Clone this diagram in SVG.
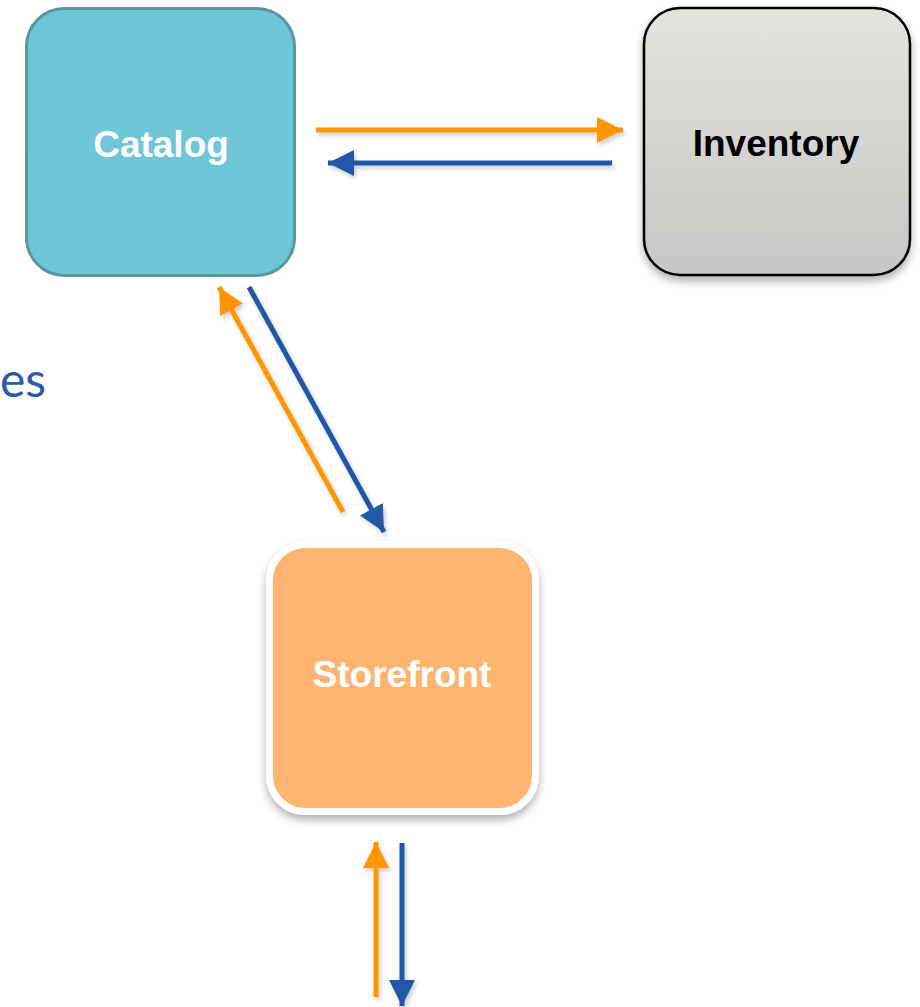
<svg xmlns="http://www.w3.org/2000/svg" width="920" height="1007" viewBox="0 0 920 1007">
  <defs>
    <linearGradient id="invGrad" x1="0" y1="0" x2="0" y2="1">
      <stop offset="0" stop-color="#e3e3df"/>
      <stop offset="1" stop-color="#c6c6c4"/>
    </linearGradient>
    <filter id="shadow" x="-20%" y="-20%" width="140%" height="150%">
      <feDropShadow dx="0" dy="5" stdDeviation="4" flood-color="#000" flood-opacity="0.3"/>
    </filter>
    <filter id="lineShadow" x="-20%" y="-20%" width="140%" height="140%">
      <feDropShadow dx="2" dy="3" stdDeviation="2" flood-color="#000" flood-opacity="0.2"/>
    </filter>
    <marker id="headOrange" viewBox="0 0 10 10" refX="10" refY="5" markerUnits="userSpaceOnUse" markerWidth="26" markerHeight="26" orient="auto">
      <path d="M0,0 L10,5 L0,10 Z" fill="#ff9500"/>
    </marker>
    <marker id="headBlue" viewBox="0 0 10 10" refX="10" refY="5" markerUnits="userSpaceOnUse" markerWidth="26" markerHeight="26" orient="auto">
      <path d="M0,0 L10,5 L0,10 Z" fill="#2457a6"/>
    </marker>
  </defs>
  <style>
    .label { font-family: "Liberation Sans", Arial, sans-serif; font-weight: bold; font-size: 37px; text-anchor: middle; }
    .req { stroke: #ff9500; stroke-width: 5; fill: none; marker-end: url(#headOrange); }
    .resp { stroke: #2457a6; stroke-width: 5; fill: none; marker-end: url(#headBlue); }
  </style>

  <rect width="920" height="1007" fill="#ffffff"/>

  <!-- trailing fragment of a heading -->
  <text x="0" y="397" font-family="Lato, 'Open Sans', sans-serif" font-size="48" fill="#2b5cab">es</text>

  <g id="connectors" filter="url(#lineShadow)">
    <line class="req" x1="316" y1="130" x2="623" y2="130"/>
    <line class="resp" x1="612" y1="163" x2="328" y2="163"/>
    <line class="req" x1="343" y1="512" x2="219" y2="287"/>
    <line class="resp" x1="249" y1="287" x2="384" y2="532"/>
    <line class="req" x1="376" y1="997" x2="376" y2="842"/>
    <line class="resp" x1="402" y1="843" x2="402" y2="1006"/>
  </g>

  <g id="catalog">
    <rect x="26.5" y="8.5" width="268" height="267" rx="38" ry="38" fill="#6fc6d6" stroke="#5a96a2" stroke-width="3"/>
    <text class="label" x="161" y="157" fill="#ffffff">Catalog</text>
  </g>

  <g id="inventory">
    <rect x="644" y="8" width="266" height="267" rx="36" ry="36" fill="url(#invGrad)" stroke="#000000" stroke-width="2.5" filter="url(#shadow)"/>
    <text class="label" x="776" y="156" fill="#000000">Inventory</text>
  </g>

  <g id="storefront">
    <rect x="269.5" y="544.5" width="266" height="267" rx="36" ry="36" fill="#fdb571" stroke="#ffffff" stroke-width="7" filter="url(#shadow)"/>
    <text class="label" x="402" y="687" fill="#ffffff">Storefront</text>
  </g>
</svg>
